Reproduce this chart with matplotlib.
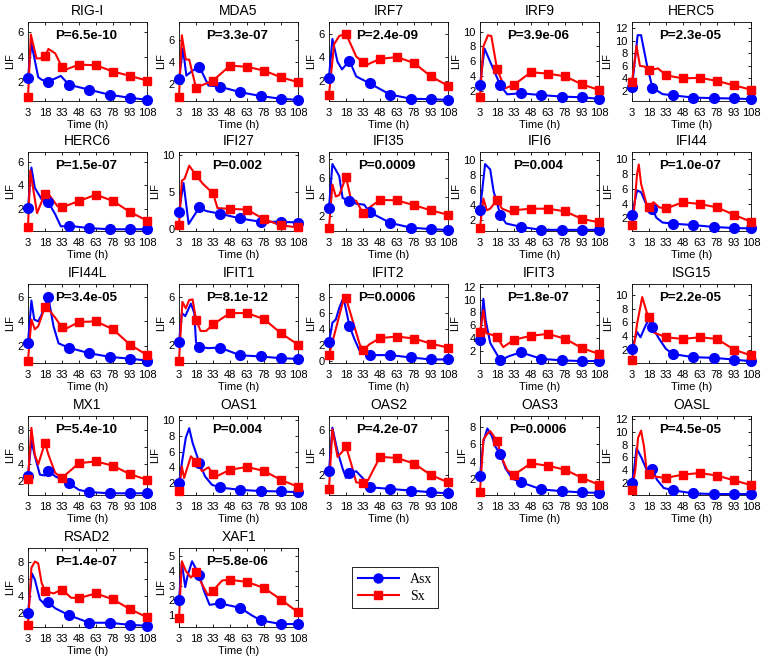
"""Interferon-stimulated gene time courses, Asx vs Sx (LIF over time)."""

import matplotlib
matplotlib.use("Agg")
import matplotlib.pyplot as plt
import numpy as np
from matplotlib.lines import Line2D

plt.rcParams["font.family"] = ["Liberation Sans", "DejaVu Sans"]

GENES = ["RIG-I", "MDA5", "IRF7", "IRF9", "HERC5",
         "HERC6", "IFI27", "IFI35", "IFI6", "IFI44",
         "IFI44L", "IFIT1", "IFIT2", "IFIT3", "ISG15",
         "MX1", "OAS1", "OAS2", "OAS3", "OASL",
         "RSAD2", "XAF1"]

P_LABELS = ["P=6.5e-10", "P=3.3e-07", "P=2.4e-09", "P=3.9e-06", "P=2.3e-05",
            "P=1.5e-07", "P=0.002", "P=0.0009", "P=0.004", "P=1.0e-07",
            "P=3.4e-05", "P=8.1e-12", "P=0.0006", "P=1.8e-07", "P=2.2e-05",
            "P=5.4e-10", "P=0.004", "P=4.2e-07", "P=0.0006", "P=4.5e-05",
            "P=1.4e-07", "P=5.8e-06"]

TIME_TICKS = [3, 18, 33, 48, 63, 78, 93, 108]
ASX_MARK_T = [3, 21, 39, 57, 75, 93, 108]   # sampled time points, Asx
SX_MARK_T = [3, 18, 33, 48, 63, 78, 93, 108]  # sampled time points, Sx

# (time, LIF) points of each curve
ASX = [
    [(3, 2.35), (6, 5.1), (12, 2.4), (15, 2.2), (21, 2.05), (32, 2.5), (39, 1.8), (57, 1.4), (75, 1.0), (93, 0.75), (108, 0.6)],
    [(3, 2.45), (6.5, 5.2), (9.5, 2.75), (15, 3.2), (21, 3.55), (29, 1.85), (39, 1.75), (57, 1.25), (75, 0.9), (93, 0.65), (108, 0.55)],
    [(3, 2.25), (6, 5.55), (10.5, 3.6), (14.5, 2.95), (21, 3.7), (27, 2.35), (39, 1.75), (57, 0.8), (75, 0.45), (93, 0.4), (108, 0.35)],
    [(3, 2.8), (7, 7.7), (14, 5.2), (21, 2.7), (27, 1.5), (39, 1.65), (57, 1.4), (75, 1.2), (93, 1.1), (108, 0.9)],
    [(3, 2.65), (8, 10.9), (11, 10.9), (16, 6.3), (21, 2.5), (30, 1.5), (39, 1.3), (57, 0.95), (75, 0.85), (93, 0.8), (108, 0.7)],
    [(3, 2.05), (6, 5.55), (9, 3.8), (15, 2.8), (21, 2.55), (27, 1.5), (32, 0.45), (39, 0.5), (57, 0.3), (75, 0.2), (93, 0.2), (108, 0.2)],
    [(3, 2.3), (7, 6.2), (11.5, 0.65), (21, 2.9), (27, 2.4), (39, 2.05), (57, 1.4), (75, 0.95), (93, 0.95), (108, 0.85)],
    [(3, 2.85), (6, 7.45), (12, 6.2), (15, 3.9), (21, 3.6), (27, 3.3), (34, 3.2), (39, 2.4), (57, 1.3), (75, 0.8), (93, 0.65), (108, 0.55)],
    [(3, 3.3), (7.5, 9.4), (12, 8.7), (15, 5.8), (21, 2.7), (26, 1.55), (39, 1.1), (57, 0.7), (75, 0.7), (93, 0.7), (108, 0.7)],
    [(3, 2.5), (7.5, 5.8), (11, 5.55), (15.5, 3.95), (21, 3.25), (24.5, 2.1), (30, 1.45), (39, 1.3), (57, 1.1), (75, 0.85), (93, 0.7), (108, 0.65)],
    [(3, 2.25), (6, 5.7), (8.5, 4.15), (12, 4.0), (15, 4.55), (18, 5.35), (21, 5.95), (25.5, 3.6), (30, 2.2), (39, 1.85), (57, 1.4), (75, 1.1), (93, 0.95), (108, 0.8)],
    [(3, 2.2), (5.5, 4.65), (8.5, 4.4), (13.5, 5.45), (16.5, 4.65), (18, 2.2), (21, 1.8), (29, 1.7), (39, 1.75), (57, 1.1), (75, 1.0), (93, 0.85), (108, 0.8)],
    [(3, 2.3), (6, 4.8), (9, 5.2), (12, 6.65), (15, 7.7), (16.5, 7.5), (21, 4.4), (25.5, 2.7), (30, 1.25), (39, 0.7), (57, 0.7), (75, 0.4), (93, 0.15), (108, 0.15)],
    [(3, 3.8), (6, 10.1), (8, 6.8), (12, 3.3), (21, 0.6), (28.5, 1.25), (39, 1.85), (57, 0.85), (75, 0.6), (93, 0.5), (108, 0.5)],
    [(3, 2.15), (7.5, 4.6), (10.5, 3.85), (15, 5.55), (18, 6.5), (21, 5.3), (27, 3.6), (33, 2.15), (39, 1.4), (57, 0.95), (75, 0.85), (93, 0.6), (108, 0.35)],
    [(3, 2.6), (6, 6.8), (9, 5.0), (13.5, 2.8), (17.5, 2.7), (21, 3.25), (27, 2.6), (33, 2.2), (39, 1.8), (48, 1.0), (57, 0.75), (75, 0.6), (93, 0.6), (108, 0.6)],
    [(3, 2.0), (6, 5.0), (9, 7.75), (12, 8.95), (15, 7.1), (21, 4.55), (26, 2.85), (32, 1.8), (39, 1.45), (57, 1.15), (75, 1.0), (93, 0.95), (108, 0.85)],
    [(3, 2.3), (6, 6.25), (10.5, 4.1), (15, 2.55), (18, 1.7), (21, 2.1), (27, 2.3), (33, 1.65), (39, 0.85), (57, 0.7), (75, 0.55), (93, 0.4), (108, 0.3)],
    [(3, 2.3), (6, 6.35), (9.5, 7.85), (13.5, 6.95), (16.5, 5.75), (21, 4.85), (25.5, 3.2), (31.5, 2.0), (39, 1.6), (57, 0.75), (75, 0.55), (93, 0.4), (108, 0.35)],
    [(3, 2.0), (5, 4.35), (7, 7.45), (11.5, 5.9), (16.5, 3.8), (21, 4.2), (25, 2.5), (31, 1.2), (39, 0.85), (57, 0.35), (75, 0.25), (93, 0.25), (108, 0.25)],
    [(3, 2.05), (6.5, 6.7), (9, 6.0), (13.5, 3.65), (17.5, 3.1), (21, 3.3), (27, 2.6), (39, 1.8), (57, 0.9), (75, 0.9), (93, 0.65), (108, 0.55)],
    [(3, 2.05), (5.5, 4.55), (8.5, 2.9), (10.5, 3.65), (14.5, 4.65), (16.5, 4.35), (21, 3.7), (25, 2.65), (30, 1.7), (39, 1.8), (57, 1.5), (67, 1.0), (75, 0.65), (93, 0.4), (108, 0.4)],
]

SX = [
    [(3, 0.8), (5.5, 5.8), (10.5, 3.9), (14, 3.9), (18, 4.05), (21, 4.65), (27, 4.3), (33, 3.2), (36, 3.0), (48, 3.4), (63, 3.35), (78, 2.85), (93, 2.5), (108, 2.13)],
    [(3, 0.85), (5.5, 6.4), (9, 4.2), (12, 4.2), (18, 1.65), (33, 2.3), (48, 3.65), (63, 3.55), (78, 3.2), (93, 2.6), (108, 2.15)],
    [(3, 0.8), (7.5, 5.1), (12, 5.8), (18, 6.0), (27, 4.05), (33, 3.55), (36.5, 3.35), (48, 3.85), (63, 4.0), (78, 3.5), (93, 2.35), (108, 1.55)],
    [(3, 1.2), (6, 8.0), (10, 9.5), (13, 9.4), (18, 4.95), (25, 2.3), (33, 2.8), (48, 4.5), (63, 4.3), (78, 3.95), (93, 2.85), (108, 2.1)],
    [(3, 3.5), (7, 9.2), (10, 6.0), (14, 5.9), (18, 5.3), (26, 5.6), (33, 4.5), (48, 4.0), (63, 4.1), (78, 3.6), (93, 2.9), (108, 2.2)],
    [(3, 0.4), (5, 5.3), (11, 1.6), (18, 3.3), (20, 3.4), (29, 2.2), (33, 2.1), (48, 2.65), (63, 3.2), (78, 2.65), (93, 1.7), (108, 0.95)],
    [(3, 0.45), (5.5, 6.5), (8, 6.8), (12, 8.55), (18, 7.25), (24, 6.1), (33, 4.8), (37, 2.8), (48, 2.7), (63, 2.6), (78, 1.3), (93, 0.45), (108, 0.2)],
    [(3, 0.8), (6, 5.3), (9, 4.05), (12, 4.2), (18, 6.1), (22.5, 3.7), (27, 3.6), (33, 2.3), (37.5, 2.8), (48, 3.7), (63, 3.65), (78, 3.15), (93, 2.6), (108, 2.15)],
    [(3, 1.0), (6, 4.85), (9, 3.3), (12, 3.5), (18, 4.7), (22.5, 3.5), (30, 3.05), (33, 3.3), (48, 3.5), (63, 3.5), (78, 3.15), (93, 2.15), (108, 1.7)],
    [(3, 1.1), (4.5, 2.6), (7.5, 8.05), (9, 9.3), (11, 6.7), (16, 3.85), (18, 3.6), (22, 4.2), (27, 3.5), (33, 3.35), (48, 4.2), (63, 3.95), (78, 3.5), (93, 2.5), (108, 1.55)],
    [(3, 0.8), (6, 4.15), (9, 3.35), (12, 3.6), (18, 5.2), (21, 5.0), (27, 4.3), (33, 3.5), (36.5, 3.4), (48, 3.95), (63, 4.0), (78, 3.35), (93, 2.1), (108, 1.25)],
    [(3, 0.65), (6, 5.6), (9, 5.05), (12, 5.75), (15, 5.8), (18, 4.1), (22, 3.15), (27, 3.15), (33, 3.7), (48, 4.65), (63, 4.65), (78, 4.15), (93, 2.95), (108, 2.0)],
    [(3, 0.7), (9, 4.0), (15, 7.3), (18, 7.9), (24, 5.0), (30, 2.1), (33, 1.35), (39, 2.1), (48, 2.85), (63, 3.05), (78, 2.8), (93, 2.15), (108, 1.65)],
    [(3, 5.05), (6, 8.35), (8.5, 4.8), (13.5, 4.55), (18, 4.2), (23.5, 2.65), (28.5, 3.25), (33, 3.8), (48, 4.4), (63, 4.7), (78, 3.95), (93, 2.5), (108, 1.6)],
    [(3, 0.55), (7.5, 5.8), (12, 9.7), (16, 7.5), (18, 6.85), (22, 4.55), (33, 3.85), (48, 3.6), (63, 3.85), (78, 3.6), (93, 2.05), (108, 1.2)],
    [(3, 2.3), (6, 8.3), (9, 5.15), (12, 4.0), (18, 6.55), (21, 5.15), (27, 3.0), (33, 2.4), (38, 3.0), (48, 4.15), (63, 4.35), (78, 3.85), (93, 2.85), (108, 2.2)],
    [(3, 1.0), (5.5, 4.1), (7.5, 2.65), (13.5, 5.4), (18, 4.7), (23.5, 3.5), (29, 4.0), (33, 3.15), (36, 2.85), (48, 3.7), (63, 4.05), (78, 3.55), (93, 2.4), (108, 1.55)],
    [(3, 0.7), (6, 6.1), (10.5, 3.6), (15, 4.1), (18, 4.55), (22.5, 3.0), (27, 1.3), (33, 1.2), (37.5, 1.5), (48, 3.6), (63, 3.5), (78, 3.0), (93, 1.95), (108, 1.3)],
    [(3, 0.5), (6, 6.55), (9, 7.15), (12, 7.55), (18, 6.4), (22.5, 4.35), (27, 3.0), (33, 2.45), (48, 3.8), (63, 3.5), (78, 3.05), (93, 2.1), (108, 1.3)],
    [(3, 0.85), (6, 4.1), (8.3, 9.05), (11, 10.2), (13.6, 7.7), (15.5, 4.6), (18, 3.45), (24, 2.95), (33, 2.8), (48, 3.3), (63, 3.55), (78, 3.15), (93, 2.4), (108, 1.65)],
    [(3, 0.65), (6, 7.35), (9, 8.1), (12, 7.9), (15, 5.6), (18, 4.65), (25.5, 4.35), (33, 4.8), (41, 3.85), (48, 3.8), (63, 4.35), (78, 3.65), (93, 2.5), (108, 1.55)],
    [(3, 0.8), (5.5, 4.65), (9, 4.0), (13.5, 3.55), (18, 3.9), (24, 3.0), (28.5, 2.35), (33, 2.65), (41, 3.35), (48, 3.4), (63, 3.25), (78, 2.85), (93, 2.05), (108, 1.2)],
]

# y range and tick step of each panel
Y_LIMS = [(0.5, 6.8), (0.45, 7.6), (0.25, 7.0), (0.6, 11.3), (0.4, 13.0),
          (0.05, 6.9), (-0.3, 10.4), (0.45, 8.7), (0.55, 11.0), (0.3, 11.0),
          (0.6, 7.05), (0.45, 7.1), (-0.3, 9.7), (0.2, 12.4), (0.1, 11.6),
          (0.4, 9.7), (0.5, 10.5), (0.15, 7.3), (0.1, 9.3), (0.1, 12.5),
          (0.4, 9.7), (0.2, 5.55)]
Y_STEPS = [2, 2, 2, 2, 2,
           2, 5, 2, 2, 2,
           2, 2, 2, 2, 2,
           2, 2, 2, 2, 2,
           2, 1]

BLUE, RED = "#0000ff", "#ff0000"
W, H = 761, 662
COL_X = [28, 179, 329, 480, 632]
ROW_Y = [22, 152, 284, 416, 548]
AX_W, AX_H = 119, 79


def draw_series(ax, pts, mark_t, color, marker, ms):
    t, y = zip(*pts)
    ax.plot(t, y, "-", color=color, lw=1.5, clip_on=False, zorder=3)
    mt = [p[0] for p in pts if p[0] in mark_t]
    my = [p[1] for p in pts if p[0] in mark_t]
    ax.plot(mt, my, linestyle="none", marker=marker, ms=ms, color=color,
            mec=color, clip_on=False, zorder=4)


fig = plt.figure(figsize=(W / 100, H / 100), dpi=100)

for i, gene in enumerate(GENES):
    r, c = divmod(i, 5)
    ax = fig.add_axes([COL_X[c] / W, 1 - (ROW_Y[r] + AX_H) / H, AX_W / W, AX_H / H])
    draw_series(ax, ASX[i], ASX_MARK_T, BLUE, "o", 7)
    draw_series(ax, SX[i], SX_MARK_T, RED, "s", 6)

    lo, hi = Y_LIMS[i]
    step = Y_STEPS[i]
    ax.set_xlim(3, 108)
    ax.set_ylim(lo, hi)
    ax.set_xticks(TIME_TICKS)
    ax.set_yticks(np.arange(step * np.ceil(lo / step), hi + 1e-9, step))
    ax.tick_params(direction="in", top=True, right=True, length=2.5, width=0.6,
                   labelsize=8, pad=3)
    ax.tick_params(axis="x", pad=5)
    for s in ax.spines.values():
        s.set_linewidth(0.6)

    ax.set_title(gene, fontsize=10, pad=5)
    ax.set_xlabel("Time (h)", fontsize=8, labelpad=1.5)
    ax.set_ylabel("LIF", fontsize=8, labelpad=2)
    ax.text(0.49, 0.82, P_LABELS[i], transform=ax.transAxes, ha="center",
            va="center", fontsize=9.6, fontweight="bold", zorder=5)

handles = [
    Line2D([], [], color=BLUE, lw=1.5, marker="o", ms=6.5),
    Line2D([], [], color=RED, lw=1.5, marker="s", ms=5.5),
]
leg = fig.legend(handles, ["Asx", "Sx"], loc="upper left",
                 bbox_to_anchor=(352 / W, 1 - 567 / H), borderaxespad=0,
                 prop={"family": "Liberation Serif", "size": 10},
                 fancybox=False, edgecolor="black", framealpha=1,
                 handlelength=3, labelspacing=0.3, borderpad=0.4)
leg.get_frame().set_linewidth(0.6)

fig.savefig("out.png", dpi=100)
